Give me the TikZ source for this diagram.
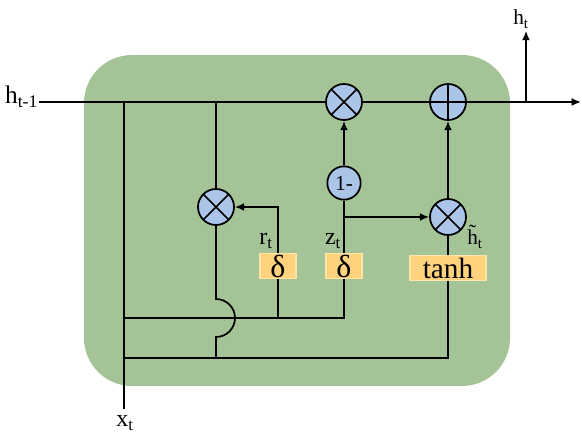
\documentclass[tikz,border=0pt]{standalone}
\usepackage{fontspec}
\setmainfont{Liberation Serif}
\usetikzlibrary{arrows.meta,calc,positioning}
\definecolor{cellgreen}{HTML}{A4C497}
\definecolor{opblue}{HTML}{ABC5E8}
\definecolor{gateorange}{HTML}{FFD27E}
\definecolor{gateedge}{HTML}{FFE4A6}
\newcommand{\sub}[1]{\textsubscript{#1}}

\begin{document}
\begin{tikzpicture}[x=0.75pt,y=-0.75pt,>={Latex[length=7pt,width=6pt]},line width=1.3pt,
  op/.style={circle,draw,fill=opblue,minimum size=27pt,inner sep=0pt},
  mult/.style={op,path picture={\draw[line width=1.3pt]
      (path picture bounding box.south west) -- (path picture bounding box.north east)
      (path picture bounding box.north west) -- (path picture bounding box.south east);}},
  plus/.style={op,path picture={\draw[line width=1.3pt]
      (path picture bounding box.north) -- (path picture bounding box.south)
      (path picture bounding box.west) -- (path picture bounding box.east);}},
  gate/.style={fill=gateorange,draw=gateedge,line width=0.8pt,minimum height=19pt,inner sep=0pt},
  lbl/.style={anchor=base,font=\fontsize{18}{18}\selectfont,inner sep=1pt}]
\useasboundingbox (0,0) rectangle (582,441);
\fill[cellgreen,rounded corners=36pt] (84,55) rectangle (510,386);

% operators
\node[mult] (mz) at (344,102) {};
\node[plus] (add) at (448,102) {};
\node[mult] (mr) at (216,207) {};
\node[op,minimum size=25pt,font=\fontsize{16}{16}\selectfont] (one) at (344,183) {1-};
\node[mult] (mh) at (448,217) {};

% gates
\node[gate,minimum width=27pt,font=\fontsize{24}{24}\selectfont] (sr) at (278,266) {δ};
\node[gate,minimum width=27pt,font=\fontsize{24}{24}\selectfont] (sz) at (344,266) {δ};
\node[gate,minimum width=57pt,font=\fontsize{22}{22}\selectfont] (th) at (448,268) {tanh};

% labels
\node[anchor=base east,font=\fontsize{19}{19}\selectfont,inner sep=0pt] (hprev) at (39,104) {h\sub{t-1}};
\node[lbl,font=\fontsize{16}{16}\selectfont] (ht) at (521,25) {h\sub{t}};
\node[lbl] (xt) at (125,427) {x\sub{t}};
\node[lbl] (rlbl) at (266,245) {r\sub{t}};
\node[lbl] (zlbl) at (333,245) {z\sub{t}};
\node[lbl,font=\fontsize{16}{16}\selectfont] (hlbl) at (475,245) {\~{h}\sub{t}};

\coordinate (jx) at (124,102);
\coordinate (jr) at (216,102);
\coordinate (jh) at (526,102);
\coordinate (out) at (581,102);
\coordinate (zb) at (sz.north |- mh.west);

% state line
\draw (hprev.base east) ++(0,-2) -- (mz);
\draw (mz) -- (add);
\draw[->] (add) -- (out);
\draw[->] (jh) -- (jh |- ht.south);

% input and gates
\draw (jx) -- (124,409);
\draw (jr) -- (mr);
\draw (mr.south) -- (216,299) arc[start angle=-90,end angle=90,radius=19] -- (216,358);
\draw (124,318) -| (sz.south);
\draw (sr.south) -- (sr.south |- 0,318);
\draw (124,358) -| (th.south);
\draw[->] (sr.north) |- (mr.east);
\draw (sz.north) -- (one.south);
\draw[->] (zb) -- (mh.west);
\draw[->] (one) -- (mz);
\draw (th.north) -- (mh.south);
\draw[->] (mh) -- (add);
\end{tikzpicture}
\end{document}
